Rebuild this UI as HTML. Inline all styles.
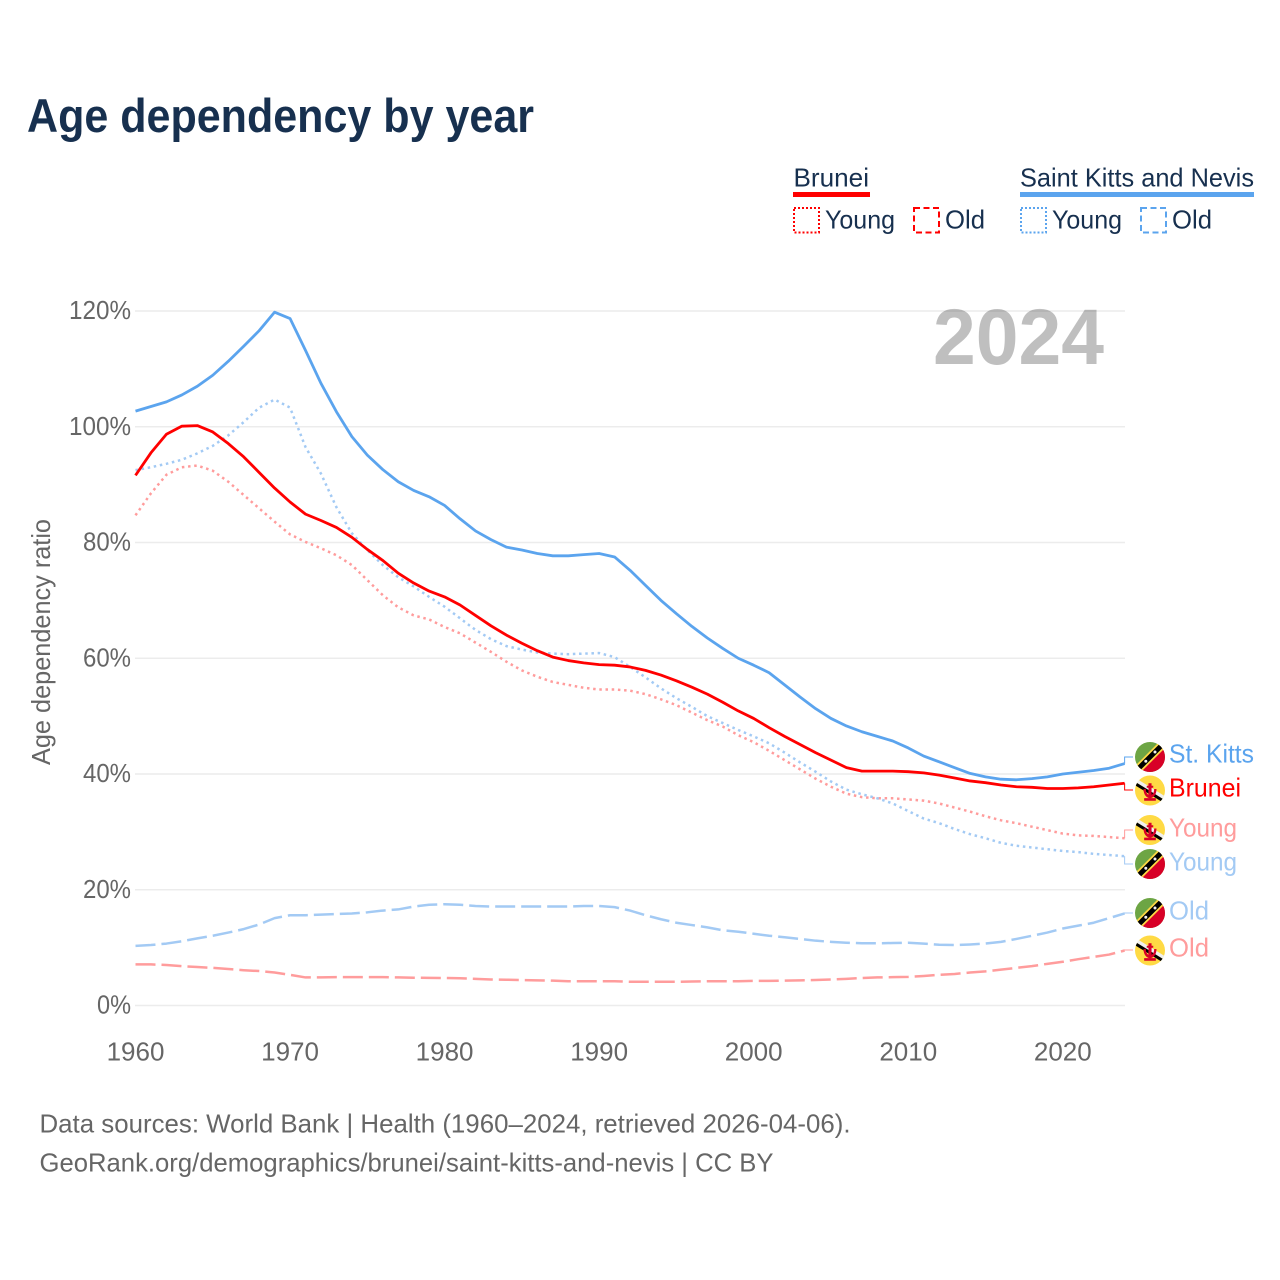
<!DOCTYPE html>
<html lang="en">
<head>
<meta charset="utf-8">
<title>Age dependency by year</title>
<style>
html,body{margin:0;padding:0;background:#fff;width:1280px;height:1280px;overflow:hidden}
svg{display:block}
text{font-family:"Liberation Sans",sans-serif}
</style>
</head>
<body>
<svg id="chart" xmlns="http://www.w3.org/2000/svg" width="1280" height="1280" viewBox="0 0 1280 1280">
  <defs>
    <clipPath id="flag-clip"><circle cx="0" cy="0" r="15"/></clipPath>
    <g id="flag-kitts" clip-path="url(#flag-clip)">
      <rect x="-15" y="-15" width="30" height="30" fill="#6da544"/>
      <path d="M15 -15V15H-15Z" fill="#d80027"/>
      <path d="M-20 14L14 -20L20 -14L-14 20Z" fill="#ffda44"/>
      <path d="M-19 15.5L15.5 -19L19 -15.5L-15.5 19Z" fill="#000"/>
      <circle cx="-4.2" cy="4.2" r="1.5" fill="#f0f0f0"/>
      <circle cx="5" cy="-5" r="1.5" fill="#f0f0f0"/>
    </g>
    <g id="flag-brunei" clip-path="url(#flag-clip)">
      <rect x="-15" y="-15" width="30" height="30" fill="#ffda44"/>
      <path d="M-17 -14L17 7L17 11L-17 -10Z" fill="#f0f0f0"/>
      <path d="M-17 -10L17 11L17 14.5L-17 -6.5Z" fill="#000"/>
      <path transform="translate(0,0.5) scale(1.3)" d="M-1.2 -6H1.2V4H-1.2Z M-5 -1.5H-3.2C-3.2 2 -1.5 3.2 0 3.2C1.5 3.2 3.2 2 3.2 -1.5H5C5 3 2.5 5.5 0 5.5C-2.5 5.5 -5 3 -5 -1.5Z M-4.5 5.5H4.5V7.5H-4.5Z M-2.5 -4H2.5V-2.5H-2.5Z" fill="#d80027"/>
    </g>
  </defs>

  <rect x="0" y="0" width="1280" height="1280" fill="#ffffff"/>

  <text x="27" y="132" font-size="47" font-weight="700" fill="#17304f" textLength="507" lengthAdjust="spacingAndGlyphs">Age dependency by year</text>

  <g fill="#17304f" font-size="26">
    <text x="793.5" y="186.5" textLength="75.5" lengthAdjust="spacingAndGlyphs">Brunei</text>
    <rect x="793" y="192" width="77" height="5" fill="#ff0000"/>
    <rect x="794" y="208" width="25" height="24.5" fill="none" stroke="#ff0000" stroke-width="2" stroke-dasharray="2 2"/>
    <text x="825" y="228.5" textLength="70" lengthAdjust="spacingAndGlyphs">Young</text>
    <rect x="914" y="208" width="25" height="24.5" fill="none" stroke="#ff0000" stroke-width="2" stroke-dasharray="6 3.5"/>
    <text x="945" y="228.5" textLength="40" lengthAdjust="spacingAndGlyphs">Old</text>

    <text x="1020" y="186.5" textLength="234" lengthAdjust="spacingAndGlyphs">Saint Kitts and Nevis</text>
    <rect x="1020" y="192" width="234" height="5" fill="#5ba4ee"/>
    <rect x="1021" y="208" width="25" height="24.5" fill="none" stroke="#5ba4ee" stroke-width="2" stroke-dasharray="2 2"/>
    <text x="1052" y="228.5" textLength="70" lengthAdjust="spacingAndGlyphs">Young</text>
    <rect x="1141" y="208" width="25" height="24.5" fill="none" stroke="#5ba4ee" stroke-width="2" stroke-dasharray="6 3.5"/>
    <text x="1172" y="228.5" textLength="40" lengthAdjust="spacingAndGlyphs">Old</text>
  </g>

  <g id="grid"></g>
  <g id="y-ticks"></g>
  <g id="x-ticks"></g>

  <text transform="translate(50,765) rotate(-90)" font-size="26" fill="#666666" textLength="246" lengthAdjust="spacingAndGlyphs">Age dependency ratio</text>
  <text x="933" y="364" font-size="79" font-weight="700" fill="#000000" fill-opacity="0.25" textLength="171" lengthAdjust="spacingAndGlyphs">2024</text>

  <g id="series"></g>

  <g font-size="26">
    <use href="#flag-kitts" x="1150" y="757"/>
    <text x="1169" y="762.5" fill="#5ba4ee" textLength="85" lengthAdjust="spacingAndGlyphs">St. Kitts</text>
    <use href="#flag-brunei" x="1150" y="790.5"/>
    <text x="1169" y="796.5" fill="#ff0000" textLength="72" lengthAdjust="spacingAndGlyphs">Brunei</text>
    <use href="#flag-brunei" x="1150" y="830"/>
    <text x="1169" y="836.5" fill="#ff9c9c" textLength="68" lengthAdjust="spacingAndGlyphs">Young</text>
    <use href="#flag-kitts" x="1150" y="864"/>
    <text x="1169" y="870.5" fill="#a3caf4" textLength="68" lengthAdjust="spacingAndGlyphs">Young</text>
    <use href="#flag-kitts" x="1150" y="913"/>
    <text x="1169" y="919.5" fill="#a3caf4" textLength="40" lengthAdjust="spacingAndGlyphs">Old</text>
    <use href="#flag-brunei" x="1150" y="950.5"/>
    <text x="1169" y="956.5" fill="#ff9c9c" textLength="40" lengthAdjust="spacingAndGlyphs">Old</text>
  </g>

  <g font-size="26" fill="#666666">
    <text x="39.5" y="1132.5" textLength="811" lengthAdjust="spacingAndGlyphs">Data sources: World Bank | Health (1960–2024, retrieved 2026-04-06).</text>
    <text x="39.5" y="1171.5" textLength="734" lengthAdjust="spacingAndGlyphs">GeoRank.org/demographics/brunei/saint-kitts-and-nevis | CC BY</text>
  </g>
</svg>

<script>
const firstYear = 1960;
const yTickValues = [0, 20, 40, 60, 80, 100, 120];
const xTickValues = [1960, 1970, 1980, 1990, 2000, 2010, 2020];

const bruneiTotal = [
  91.6,95.5,98.7,100.1,100.2,99.1,97.1,94.8,92.1,89.4,
  87,84.9,83.8,82.6,80.9,78.8,76.9,74.7,73,71.6,
  70.6,69.2,67.4,65.6,64,62.6,61.3,60.2,59.6,59.2,
  58.9,58.8,58.5,57.9,57.1,56.1,55,53.8,52.4,50.9,
  49.6,48,46.5,45.1,43.7,42.4,41.1,40.5,40.5,40.5,
  40.4,40.2,39.8,39.3,38.8,38.5,38.1,37.8,37.7,37.5,
  37.5,37.6,37.8,38.1,38.4
];
const bruneiYoung = [
  84.7,88.5,91.7,93,93.3,92.4,90.5,88.2,85.9,83.6,
  81.4,80.1,79,77.8,76.1,73.5,70.9,68.8,67.4,66.7,
  65.4,64.3,62.7,61.1,59.4,57.9,56.8,55.9,55.4,54.9,
  54.6,54.6,54.4,53.8,52.9,51.9,50.6,49.3,48.2,46.7,
  45.5,44,42.4,40.8,39.2,37.8,36.6,36,35.8,35.8,
  35.6,35.4,34.9,34.2,33.5,32.7,32,31.5,30.9,30.3,
  29.7,29.4,29.3,29.1,28.9
];
const bruneiOld = [
  7.1,7.1,7,6.8,6.65,6.5,6.3,6.1,5.95,5.7,
  5.3,4.85,4.85,4.9,4.9,4.9,4.9,4.85,4.8,4.78,
  4.75,4.7,4.6,4.5,4.45,4.4,4.35,4.3,4.2,4.2,
  4.2,4.2,4.1,4.1,4.1,4.1,4.15,4.2,4.2,4.2,
  4.25,4.25,4.3,4.35,4.4,4.5,4.6,4.75,4.85,4.9,
  4.95,5.1,5.3,5.45,5.7,5.9,6.2,6.5,6.8,7.2,
  7.55,8,8.4,8.8,9.5
];
const kittsTotal = [
  102.7,103.5,104.3,105.5,107,108.9,111.3,113.9,116.6,119.8,
  118.7,113.2,107.5,102.6,98.3,95.1,92.6,90.5,89,87.9,
  86.4,84.1,82,80.5,79.2,78.7,78.1,77.7,77.7,77.9,
  78.1,77.5,75.2,72.6,70,67.7,65.5,63.5,61.7,60,
  58.8,57.5,55.4,53.3,51.3,49.6,48.3,47.3,46.5,45.7,
  44.5,43.1,42.1,41.1,40.1,39.5,39.1,39,39.2,39.5,
  40,40.3,40.6,41,41.8
];
const kittsYoung = [
  92.5,93,93.6,94.3,95.4,96.7,98.5,100.8,103.3,104.7,
  103.3,96.5,91.9,86.1,81.6,78.7,76.1,74,72.4,70.6,
  68.9,66.9,64.9,63.3,62.1,61.5,61,60.8,60.7,60.8,
  60.9,60.2,58.5,56.7,54.8,53.1,51.6,50,48.8,47.6,
  46.5,45.3,43.7,42,40.4,38.7,37.3,36.5,35.8,34.9,
  33.6,32.3,31.5,30.5,29.6,28.9,28.1,27.6,27.3,27,
  26.7,26.5,26.2,26,25.8
];
const kittsOld = [
  10.3,10.45,10.7,11.1,11.6,12.05,12.6,13.2,14,15.1,
  15.6,15.6,15.7,15.8,15.9,16.1,16.4,16.6,17.1,17.4,
  17.5,17.4,17.2,17.1,17.1,17.1,17.1,17.1,17.1,17.2,
  17.2,17,16.4,15.6,14.9,14.3,13.9,13.5,13,12.75,
  12.4,12.05,11.8,11.5,11.2,11,10.85,10.75,10.75,10.8,
  10.85,10.7,10.5,10.45,10.55,10.7,11,11.5,12.05,12.6,
  13.3,13.8,14.3,15.1,15.9
];

const NS = 'http://www.w3.org/2000/svg';
function xScale(year) { return 135.5 + (year - 1960) * 15.455; }
function yScale(value) { return 1005.5 - value * 5.7875; }

function make(tag, attrs, parent) {
  const node = document.createElementNS(NS, tag);
  for (const key in attrs) node.setAttribute(key, attrs[key]);
  parent.appendChild(node);
  return node;
}

const gridGroup = document.getElementById('grid');
const yTickGroup = document.getElementById('y-ticks');
const xTickGroup = document.getElementById('x-ticks');
const seriesGroup = document.getElementById('series');

yTickValues.forEach(function (tick) {
  const rule = make('line', { x1: 135, x2: 1125, y1: yScale(tick), y2: yScale(tick), stroke: '#ececec', 'stroke-width': 1.5 }, gridGroup);
  
  
  const label = tick + '%';
  const text = make('text', { x: 131, y: yScale(tick) + 8, 'text-anchor': 'end', 'font-size': 26, fill: '#666666', textLength: 14 * label.length + 6, lengthAdjust: 'spacingAndGlyphs' }, yTickGroup);
  text.textContent = label;
  
  
});

xTickValues.forEach(function (tick) {
  const text = make('text', { x: xScale(tick), y: 1060.5, 'text-anchor': 'middle', 'font-size': 26, fill: '#666666' }, xTickGroup);
  text.textContent = String(tick);
  
  
});

function drawSeries(values, name, color, width, dash, labelY) {
  const points = values.map(function (value, i) {
    return xScale(firstYear + i).toFixed(2) + ',' + yScale(value).toFixed(2);
  }).join(' ');
  const attrs = { points: points, fill: 'none', stroke: color, 'stroke-width': width, 'stroke-linejoin': 'round' };
  if (dash) attrs['stroke-dasharray'] = dash;
  const line = make('polyline', attrs, seriesGroup);
  
  

  const endX = xScale(firstYear + values.length - 1);
  const endY = yScale(values[values.length - 1]);
  const path = 'M' + endX.toFixed(2) + ' ' + endY.toFixed(2) + 'V' + labelY + 'H1133';
  const connector = make('path', { d: path, fill: 'none', stroke: color, 'stroke-width': 1 }, seriesGroup);
  
  
}

drawSeries(bruneiOld, 'brunei-old', '#ff9c9c', 2.5, '20 6', 950);
drawSeries(kittsOld, 'st-kitts-old', '#a3caf4', 2.5, '20 6', 913);
drawSeries(bruneiYoung, 'brunei-young', '#ff9c9c', 2.5, '2.5 3.7', 830);
drawSeries(kittsYoung, 'st-kitts-young', '#a3caf4', 2.5, '2.5 3.7', 864);
drawSeries(kittsTotal, 'st-kitts-total', '#5ba4ee', 2.8, '', 757);
drawSeries(bruneiTotal, 'brunei-total', '#ff0000', 2.8, '', 790);
</script>
</body>
</html>
